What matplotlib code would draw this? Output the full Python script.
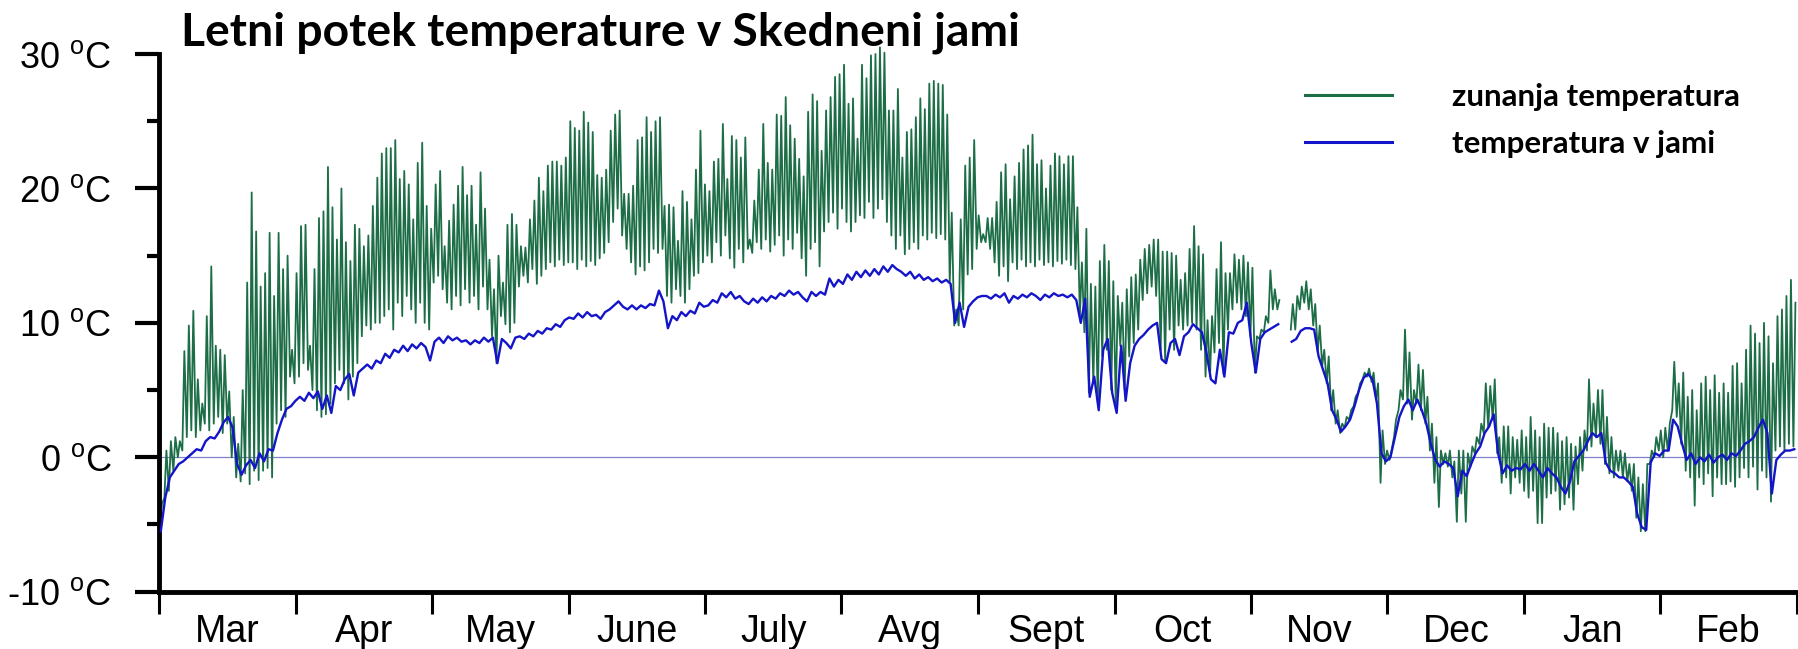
import numpy as np
import matplotlib
matplotlib.use("Agg")
import matplotlib.pyplot as plt

plt.rcParams["font.family"] = "Liberation Sans"
plt.rcParams["mathtext.fontset"] = "custom"
plt.rcParams["mathtext.rm"] = "Liberation Sans"

TITLE = "Letni potek temperature v Skedneni jami"
MONTHS = ["Mar", "Apr", "May", "June", "July", "Avg", "Sept", "Oct", "Nov", "Dec", "Jan", "Feb"]
Y_TICKS = [-10, 0, 10, 20, 30]
nan = float("nan")

# outside temperature, daily maximum (one row per month, Mar -> Feb)
out_max = [
    -3.5, 0.5, 1.2, 1.5, 1.2, 7.9, 9.8, 10.9, 5.8, 4.0, 10.5, 14.2, 8.3, 8.0, 7.6, 4.9, 3.0, 1.0, 5.0, 13.0, 19.7, 16.8, 12.7, 13.7, 16.7, 12.0, 16.7, 14.0, 15.0, 8.0, 13.7,
    17.2, 17.3, 8.3, 14.0, 17.8, 18.3, 21.6, 18.6, 16.2, 20.0, 16.0, 14.6, 17.3, 17.0, 15.7, 16.5, 18.7, 20.8, 22.6, 23.0, 23.0, 23.6, 20.7, 21.3, 20.3, 17.7, 21.9, 23.4, 18.7, 17.0,
    20.3, 21.3, 15.7, 17.6, 18.8, 20.2, 21.6, 19.5, 20.2, 17.3, 21.2, 18.5, 14.7, 12.5, 15.0, 13.0, 17.3, 18.1, 17.3, 15.7, 15.6, 17.7, 19.1, 20.8, 19.8, 21.7, 22.0, 22.0, 21.7, 22.3, 25.0,
    24.5, 24.3, 25.7, 24.9, 24.2, 21.0, 20.8, 21.4, 24.3, 25.5, 25.8, 19.6, 19.6, 20.2, 23.6, 23.8, 25.3, 24.2, 25.0, 25.3, 18.7, 18.8, 18.6, 16.1, 19.8, 19.0, 17.7, 21.4, 24.3, 20.3,
    19.8, 22.0, 22.2, 24.8, 20.7, 23.9, 23.6, 22.3, 23.8, 16.2, 19.1, 21.4, 24.8, 21.9, 21.4, 25.5, 25.4, 26.8, 24.7, 23.7, 22.2, 20.9, 25.7, 27.0, 26.5, 22.8, 25.8, 26.8, 28.3, 28.5, 29.2,
    26.3, 26.7, 23.7, 29.2, 28.2, 29.9, 30.0, 30.5, 30.1, 25.8, 25.8, 27.4, 22.3, 24.2, 24.4, 25.3, 26.7, 25.9, 27.8, 28.0, 27.8, 27.7, 25.5, 18.2, 11.0, 17.7, 21.7, 22.3, 23.6, 18.0, 16.6,
    17.8, 17.8, 19.0, 21.2, 21.8, 19.2, 20.9, 21.9, 22.9, 23.2, 24.0, 21.8, 22.1, 20.0, 21.7, 22.6, 22.4, 21.8, 22.4, 22.4, 18.6, 14.5, 17.0, 12.9, 12.7, 14.6, 15.8, 14.6, 13.1, 12.0,
    11.5, 12.5, 13.4, 13.6, 14.7, 15.5, 15.8, 16.2, 16.2, 15.3, 15.3, 15.2, 15.0, 13.2, 13.7, 15.5, 17.2, 15.7, 15.1, 10.2, 10.5, 14.0, 16.0, 13.7, 13.7, 15.1, 14.7, 15.0, 14.5, 14.1, 9.0,
    9.5, 10.5, 13.9, 12.5, 11.7, nan, nan, 11.4, 12.0, 12.7, 13.1, 12.5, 11.4, 9.8, 8.0, 7.5, 5.0, 3.5, 2.5, 3.0, 3.5, 4.5, 5.5, 6.3, 6.6, 6.3, 5.5, 2.0, 0.5, 0.5,
    2.8, 5.0, 9.5, 7.8, 5.0, 6.9, 6.5, 4.5, 2.5, 1.5, 0.5, 0.3, 0.5, -0.3, 0.5, 0.5, 0.3, 0.8, 1.5, 2.5, 5.5, 5.3, 5.8, 1.5, 2.3, 2.3, 1.5, 1.3, 2.0, 1.5, 3.0,
    2.0, 1.5, 2.5, 2.2, 2.2, 1.8, 1.2, 1.5, 1.0, 0.8, 1.5, 2.0, 5.8, 4.0, 5.0, 5.0, 3.0, 1.5, 0.5, 0.5, 0.3, -0.5, -0.5, -1.5, -2.0, -0.5, 0.5, 1.5, 2.0, 2.2, 2.5,
    7.1, 5.5, 6.3, 4.5, 5.0, 3.5, 5.5, 6.0, 5.0, 6.1, 4.8, 5.5, 4.8, 6.8, 7.0, 5.5, 8.0, 9.8, 9.2, 8.5, 10.0, 9.0, 7.0, 10.5, 11.0, 12.0, 13.2, 11.5,
]

# outside temperature, daily minimum
out_min = [
    -5.5, -3.0, -2.5, -1.0, 0.0, 0.5, 1.5, 2.0, 1.5, 2.0, 2.5, 2.0, 2.5, 3.0, 1.8, 2.5, 0.0, -1.5, -1.8, -1.2, -2.0, -1.0, -1.7, -1.0, -0.8, -1.5, 2.5, 3.5, 3.0, 6.0, 5.5,
    6.0, 7.0, 6.5, 5.0, 3.5, 3.0, 3.2, 4.0, 5.5, 6.5, 5.5, 4.3, 6.0, 7.0, 9.0, 9.8, 9.5, 10.0, 10.0, 10.5, 11.0, 9.5, 11.5, 10.5, 12.0, 11.0, 10.0, 11.5, 10.0, 9.5,
    13.0, 13.5, 12.5, 11.5, 11.0, 12.0, 11.3, 12.5, 11.5, 12.0, 11.0, 12.7, 11.0, 9.0, 7.0, 10.5, 9.9, 9.3, 10.0, 12.7, 13.5, 13.0, 14.0, 12.9, 13.5, 14.0, 14.5, 14.2, 14.7, 14.3, 14.5,
    14.5, 14.0, 14.7, 14.2, 14.6, 14.3, 14.8, 15.2, 16.0, 17.5, 18.5, 16.5, 15.5, 14.5, 13.6, 14.2, 13.9, 14.5, 15.5, 15.2, 15.5, 12.0, 11.5, 12.5, 12.0, 11.5, 12.5, 13.5, 13.7, 14.5,
    15.0, 14.5, 16.0, 15.0, 16.5, 14.8, 14.1, 15.5, 14.5, 15.5, 15.2, 16.0, 15.5, 16.2, 15.3, 15.8, 16.5, 15.0, 16.2, 15.5, 16.7, 14.8, 13.5, 15.5, 16.0, 14.2, 16.8, 17.5, 18.2, 17.0, 18.5,
    17.5, 16.8, 17.5, 18.0, 17.8, 19.0, 17.8, 18.5, 19.2, 17.5, 16.5, 15.5, 16.5, 15.1, 15.5, 16.0, 15.5, 16.5, 16.2, 16.7, 16.3, 16.6, 16.2, 13.0, 9.8, 9.8, 11.0, 13.6, 14.0, 15.5, 16.0,
    16.0, 15.5, 14.5, 13.5, 14.2, 13.1, 14.5, 14.0, 14.7, 14.2, 14.5, 14.2, 14.7, 14.3, 14.5, 14.2, 14.6, 14.4, 14.7, 14.3, 14.0, 10.5, 9.3, 4.8, 5.5, 4.0, 7.5, 8.0, 5.0, 4.0,
    8.3, 5.0, 7.5, 8.5, 9.5, 11.7, 12.2, 12.7, 12.0, 8.0, 7.2, 9.5, 8.0, 9.8, 9.5, 9.8, 10.0, 9.5, 8.0, 6.0, 6.0, 7.8, 8.5, 6.2, 9.5, 11.0, 11.5, 11.0, 10.5, 9.0, 6.3,
    8.8, 9.3, 10.0, 11.0, 11.0, nan, nan, 9.5, 9.5, 11.0, 11.5, 11.0, 9.8, 7.8, 6.8, 5.5, 3.5, 2.5, 1.8, 2.2, 2.8, 3.8, 4.8, 5.8, 6.0, 5.6, 4.3, -1.9, -0.5, -0.2,
    1.5, 3.5, 4.3, 4.0, 2.8, 4.0, 3.5, 2.5, 0.5, -1.9, -3.7, -0.5, -0.7, -1.5, -4.8, -2.7, -4.8, -0.7, 0.3, 1.0, 1.8, 2.2, 2.8, 0.3, -1.9, -1.5, -2.7, -1.5, -1.9, -2.5, -3.0,
    -2.5, -4.9, -4.9, -3.0, -2.7, -2.5, -3.9, -3.5, -3.0, -3.9, -2.0, -1.0, 0.5, 0.8, 1.5, 1.0, -0.5, -1.2, -1.5, -1.0, -1.5, -1.8, -2.5, -4.5, -5.5, -5.5, -0.5, 0.0, 0.5, 0.0, 0.5,
    3.5, 3.0, 1.0, -1.0, -1.5, -3.6, -1.5, -2.0, -1.2, -2.9, -1.5, -2.0, -2.0, -1.8, -2.2, -1.5, -0.8, -1.5, -0.7, -2.4, -1.0, -1.5, -3.3, 0.5, 0.8, 0.5, 1.0, 0.8,
]

# temperature in the cave, daily
cave = [
    -5.5, -3.0, -1.5, -1.0, -0.5, -0.3, 0.0, 0.3, 0.6, 0.5, 1.2, 1.5, 1.4, 1.9, 2.6, 3.0, 2.2, -0.5, -1.3, -0.6, -0.2, -0.8, 0.3, -0.3, 0.6, 0.5, 1.8, 2.8, 3.6, 3.8, 4.2,
    4.5, 4.2, 4.8, 4.4, 4.9, 3.6, 4.6, 3.3, 5.3, 5.0, 5.8, 6.2, 4.6, 6.3, 6.6, 6.9, 6.6, 7.2, 7.0, 7.7, 7.4, 8.0, 7.8, 8.3, 7.9, 8.4, 8.1, 8.5, 8.2, 7.2,
    8.6, 8.9, 8.5, 9.0, 8.7, 8.9, 8.6, 8.7, 8.4, 8.7, 8.5, 8.9, 8.6, 8.9, 7.0, 8.8, 8.5, 8.1, 8.9, 9.0, 8.8, 9.2, 9.0, 9.4, 9.2, 9.6, 9.5, 9.9, 9.7, 10.2, 10.4,
    10.3, 10.7, 10.4, 10.8, 10.5, 10.6, 10.3, 10.8, 11.0, 11.3, 11.6, 11.2, 11.0, 11.3, 11.0, 11.3, 11.1, 11.4, 11.3, 12.4, 11.6, 9.6, 10.5, 10.2, 10.8, 10.5, 10.9, 10.7, 11.5, 11.2,
    11.3, 11.7, 11.5, 12.2, 11.9, 12.3, 11.8, 12.0, 11.6, 11.4, 11.8, 11.5, 11.9, 11.6, 12.0, 11.8, 12.2, 12.0, 12.4, 12.1, 12.3, 11.9, 11.6, 12.3, 12.0, 12.3, 12.1, 13.3, 12.7, 13.2, 12.9,
    13.6, 13.2, 13.8, 13.4, 13.9, 13.5, 14.0, 13.6, 14.2, 13.8, 14.3, 14.0, 13.8, 13.5, 13.8, 13.3, 13.6, 13.2, 13.4, 13.1, 13.3, 13.0, 13.2, 12.9, 10.0, 11.5, 9.7, 11.2, 11.6, 11.9, 12.0,
    12.0, 11.8, 12.1, 11.9, 12.2, 11.5, 12.0, 11.8, 12.1, 11.9, 12.2, 12.0, 11.7, 12.1, 11.9, 12.2, 12.0, 12.1, 11.9, 12.1, 11.7, 10.0, 11.8, 4.5, 6.0, 3.5, 8.0, 8.8, 4.8, 3.3,
    8.3, 4.2, 7.0, 8.3, 8.8, 9.1, 9.5, 9.8, 10.0, 7.3, 7.0, 8.5, 8.8, 7.6, 9.0, 9.3, 9.9, 9.6, 9.3, 7.8, 5.8, 5.5, 8.0, 6.0, 9.3, 9.2, 10.0, 10.2, 11.5, 8.5, 6.3,
    8.8, 9.3, 9.5, 9.7, 9.9, nan, nan, 8.6, 8.8, 9.4, 9.6, 9.6, 9.5, 7.5, 6.5, 5.5, 3.5, 2.8, 1.9, 2.3, 2.8, 3.8, 5.0, 5.9, 6.2, 5.8, 4.0, 0.3, -0.3, 0.0,
    1.5, 3.0, 3.8, 4.3, 3.5, 4.3, 3.5, 2.5, 1.0, -0.2, -0.7, -0.3, -0.5, -0.8, -2.9, -1.0, -1.4, -0.5, 0.3, 0.8, 1.8, 2.3, 3.2, 0.3, -1.2, -0.6, -1.0, -0.8, -0.9, -0.5, -1.0,
    -0.5, -1.0, -1.5, -0.8, -1.2, -1.5, -2.2, -2.7, -1.8, -0.3, 0.1, 0.5, 1.2, 1.8, 1.5, 1.8, -0.4, -1.0, -1.2, -1.5, -1.5, -1.8, -2.2, -4.2, -5.2, -5.4, -0.4, 0.3, 0.1, 0.5, 0.5,
    2.8, 2.3, 1.0, -0.2, 0.3, -0.5, 0.0, -0.3, 0.2, -0.4, 0.0, 0.2, -0.2, 0.3, 0.1, 0.5, 1.0, 1.2, 1.5, 2.2, 2.8, 1.8, -2.7, -0.2, 0.2, 0.5, 0.5, 0.6,
]

GREEN = "#1d6e47"
BLUE = "#1414c8"

days = np.arange(len(cave))
n_days = len(days)
# outside series: night minimum then afternoon maximum for each day
t_out = np.column_stack([days + 0.2, days + 0.65]).ravel()
v_out = np.column_stack([out_min, out_max]).ravel()

fig = plt.figure(figsize=(17.99, 6.49), dpi=100)
ax = fig.add_axes([159 / 1799, 1 - 591.7 / 649, 1638 / 1799, 578 / 649])

ax.axhline(0, color="#8080cc", lw=0.9, zorder=1)
ax.plot(t_out, v_out, color=GREEN, lw=1.3, label="zunanja temperatura", zorder=2)
ax.plot(days + 0.4, cave, color=BLUE, lw=1.7, label="temperatura v jami", zorder=3)

ax.set_xlim(0, n_days)
ax.set_ylim(-10, 33)

for s in ["top", "right"]:
    ax.spines[s].set_visible(False)
ax.spines["left"].set_bounds(-10, 30)
ax.spines["left"].set_linewidth(3.5)
ax.spines["bottom"].set_linewidth(3.5)

ax.set_yticks(Y_TICKS)
ax.set_yticklabels([f"{v} $^{{\\mathrm{{o}}}}$C" for v in Y_TICKS])
ax.set_yticks([-5, 5, 15, 25], minor=True)
ax.tick_params(axis="y", which="major", length=17, width=3, labelsize=26, pad=17)
ax.tick_params(axis="y", which="minor", length=9, width=3)

month_len = n_days / len(MONTHS)
edges = [i * month_len for i in range(len(MONTHS) + 1)]
centers = [(i + 0.5) * month_len for i in range(len(MONTHS))]
ax.set_xticks(edges)
ax.set_xticklabels([""] * len(edges))
ax.set_xticks(centers, minor=True)
ax.set_xticklabels(MONTHS, minor=True)
ax.tick_params(axis="x", which="major", length=16, width=2.2)
ax.tick_params(axis="x", which="minor", length=0, labelsize=27, pad=16)

fig.text(181 / 1799, 1 - 46 / 649, TITLE, fontsize=33.3, fontweight="bold",
         family="Lato", ha="left", va="baseline")

leg = ax.legend(loc="upper left", bbox_to_anchor=(1305 / 1799, 1 - 83 / 649),
                bbox_transform=fig.transFigure, frameon=False,
                prop={"family": "Lato", "weight": "bold", "size": 22.5},
                handlelength=2.8, handletextpad=1.9, labelspacing=0.62,
                borderpad=0, borderaxespad=0)
for h in leg.get_lines():
    h.set_linewidth(2.2)

fig.savefig("out.png", dpi=100)
